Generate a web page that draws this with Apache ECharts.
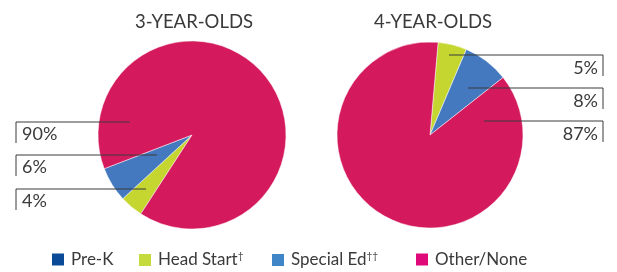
<!DOCTYPE html>
<html><head><meta charset="utf-8">
<script src="https://cdn.jsdelivr.net/npm/echarts@6/dist/echarts.min.js"></script>
<style>html,body{margin:0;padding:0;background:#fff}#c{width:617px;height:272px}</style>
</head><body><div id="c"></div>
<script>
var categories = ['Pre-K', 'Head Start', 'Special Ed', 'Other/None'];
var threeYearOlds = [0, 4, 6, 90];
var fourYearOlds = [0, 5, 8, 87];
var titles = ['3-YEAR-OLDS', '4-YEAR-OLDS'];

var sliceColors = ['#0B4F9C', '#C4D62F', '#4479BF', '#D41A5D'];
var legendColors = ['#0A4A96', '#C5DA3C', '#3F86C8', '#E0097A'];
var FONT = 'Lato, "Open Sans", sans-serif';
var TXT = '#3a3a3a';

// label placement (layout only): [lineY, innerX] per category index
var leftLayout = {1: [189, 146], 2: [155, 157], 3: [122, 130]};
var rightLayout = {1: [55, 449], 2: [88, 468], 3: [121, 484]};

function makeData(vals, overlay) {
  return vals.map(function (v, i) {
    return {name: categories[i], value: v,
      itemStyle: {color: overlay ? 'rgba(0,0,0,0)' : sliceColors[i]},
      label: {show: overlay && v > 0}, labelLine: {show: overlay && v > 0}};
  });
}

var chart = echarts.init(document.getElementById('c'), null, {renderer: 'canvas'});
var legends = [];
var legendLeft = [50, 137, 270, 414];
categories.forEach(function (c, i) {
  legends.push({
    data: [{name: c, itemStyle: {color: legendColors[i]}}],
    left: legendLeft[i], top: 251, itemWidth: 14, itemHeight: 14, itemGap: 0,
    icon: 'rect', selectedMode: false, padding: 0,
    formatter: function (n) {
      if (n === 'Head Start') return n + '{sup|†}';
      if (n === 'Special Ed') return n + '{sup|††}';
      return n;
    },
    textStyle: {fontFamily: FONT, fontSize: 17, color: TXT, padding: [0, 0, 0, 1],
      rich: {sup: {fontFamily: FONT, fontSize: 10, color: TXT, padding: [0, 0, 8, 0]}}}
  });
});

function series(name, vals, center, radius, startAngle, lay, side, overlay) {
  return {
    type: 'pie', name: name, center: center, radius: radius, startAngle: startAngle, clockwise: true,
    avoidLabelOverlap: false, animation: false, silent: true, z: overlay ? 5 : 2,
    legendHoverLink: false,
    itemStyle: overlay ? {borderWidth: 0} : {borderColor: '#ffffff', borderWidth: 0.5},
    label: {show: overlay, formatter: function (p) { return p.value + '%'; },
      fontFamily: FONT, fontSize: 18, color: TXT},
    labelLine: {show: overlay, lineStyle: {color: '#3a3a3a', width: 1}},
    labelLayout: function (p) {
      var l = lay[p.dataIndex];
      if (!l) return {};
      var y = l[0], inner = l[1];
      if (side === 'left') {
        return {x: 22, y: y + 12.5, align: 'left', verticalAlign: 'middle',
          labelLinePoints: [[inner, y], [16, y], [16, y + 21]]};
      }
      return {x: 598, y: y + 13.5, align: 'right', verticalAlign: 'middle',
        labelLinePoints: [[inner, y], [603, y], [603, y + 21]]};
    },
    data: makeData(vals, overlay)
  };
}

chart.setOption({
  animation: false,
  title: [
    {text: titles[0], left: 189, top: 8, textAlign: 'center',
      textStyle: {fontFamily: FONT, fontSize: 18.5, fontWeight: 'normal', color: TXT}},
    {text: titles[1], left: 428, top: 8, textAlign: 'center',
      textStyle: {fontFamily: FONT, fontSize: 18.5, fontWeight: 'normal', color: TXT}}
  ],
  legend: legends,
  series: [
    series('3', threeYearOlds, [192, 135], 94, 237, leftLayout, 'left', false),
    series('4', fourYearOlds, [430, 135], 93, 85, rightLayout, 'right', false),
    series('3l', threeYearOlds, [192, 135], 94, 237, leftLayout, 'left', true),
    series('4l', fourYearOlds, [430, 135], 93, 85, rightLayout, 'right', true)
  ]
});
</script></body></html>
